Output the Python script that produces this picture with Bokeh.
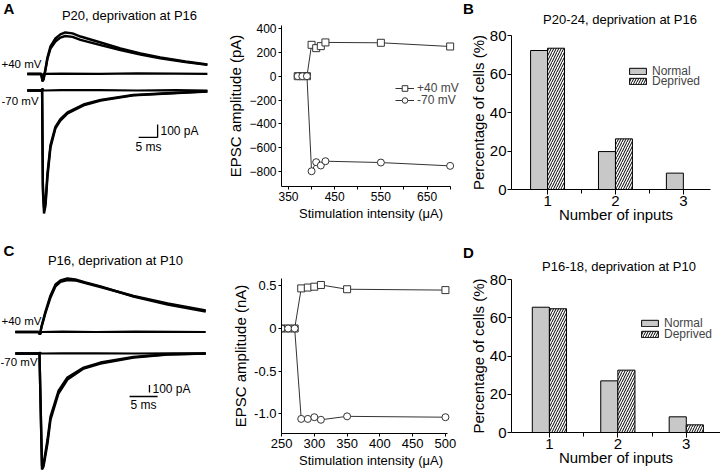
from bokeh.plotting import figure
from bokeh.models import Range1d, FixedTicker, Label, Legend, LegendItem, ColumnDataSource, PrintfTickFormatter, Div
from bokeh.layouts import row, column
from bokeh.transform import dodge
from bokeh.embed import file_html
from bokeh.resources import INLINE

FONT = "Liberation Sans"

# ---------------- DATA ----------------
# Panel A example traces (time after stimulus in ms, current in pA)
A_T_RESP40 = [-4.0, -0.3, 0.0, 0.3, 0.8, 1.3, 2.1, 3.4, 4.7, 6.0, 7.9, 10.0, 15.3, 20.5, 25.8, 31.0, 37.6, 43.4]
A_I_RESP40_1 = [0, 0, -58, -42, 42, 127, 212, 273, 304, 319, 312, 288, 242, 196, 158, 127, 96, 73]
A_I_RESP40_2 = [0, 0, -50, -35, 35, 115, 195, 250, 280, 292, 285, 262, 222, 183, 150, 121, 92, 70]
A_T_RESP70 = [-4.0, -0.1, 0.1, 0.4, 0.8, 1.3, 2.1, 3.4, 4.7, 6.6, 10.8, 15.3, 23.9, 32.9, 43.4]
A_I_RESP70_1 = [0, 0, -769, -946, -885, -669, -438, -292, -231, -177, -115, -77, -38, -23, -8]
A_I_RESP70_2 = [0, 0, -720, -900, -860, -640, -420, -280, -220, -168, -108, -72, -35, -21, -7]
A_T_FAIL = [-4.0, -0.3, 0.0, 0.3, 5.0, 15.0, 25.0, 35.0, 43.4]
A_I_FAIL40 = [0, 0, -50, 0, 3, 0, 4, 2, 0]
A_I_FAIL70 = [0, 0, 15, 0, 2, 3, 0, 2, 0]

# Panel C example traces
C_T_RESP40 = [-4.4, -0.27, 0.0, 0.27, 0.98, 1.88, 2.77, 3.66, 4.9, 6.3, 8.1, 10.8, 16.7, 22.8, 29.6]
C_I_RESP40_1 = [0, 0, -33, 73, 273, 487, 633, 687, 713, 700, 660, 607, 473, 367, 273]
C_I_RESP40_2 = [0, 0, -30, 65, 255, 460, 610, 667, 693, 687, 653, 600, 480, 380, 287]
C_T_RESP70 = [-4.4, -0.09, 0.36, 0.63, 1.34, 1.88, 3.3, 4.9, 7.8, 10.8, 16.7, 22.8, 29.6]
C_I_RESP70_1 = [0, 0, -1547, -1507, -1200, -880, -533, -347, -200, -133, -53, -13, 0]
C_I_RESP70_2 = [0, 0, -1500, -1480, -1150, -840, -500, -320, -187, -120, -47, -10, 0]
C_T_FAIL = [-4.4, -0.27, 0.0, 0.27, 4.0, 10.0, 17.0, 24.0, 29.6]
C_I_FAIL40 = [0, 0, -30, 0, 4, 0, 5, 2, 0]
C_I_FAIL70 = [0, 0, 10, 0, 3, 2, 0, 3, 0]

SCALE_MS = 5
SCALE_PA = 100

# Stimulation intensity vs EPSC amplitude
A_STIM = [370, 380, 390, 400, 410, 420, 430, 550, 700]
A_EPSC40 = [0, 0, 0, 263, 235, 252, 283, 280, 249]      # pA
A_EPSC70 = [0, 0, 0, -797, -721, -749, -713, -724, -752]
C_STIM = [250, 260, 270, 280, 290, 300, 310, 350, 500]
C_EPSC40 = [0, 0, 0, 0.47, 0.48, 0.49, 0.51, 0.46, 0.45]  # nA
C_EPSC70 = [0, 0, 0, -1.06, -1.06, -1.04, -1.07, -1.03, -1.04]

# Number of inputs distributions (% of cells)
INPUTS = [1, 2, 3]
B_NORMAL = [72.2, 19.7, 8.5]
B_DEPRIVED = [73.4, 26.3, 0.0]
D_NORMAL = [65.5, 27.0, 8.2]
D_DEPRIVED = [64.7, 32.6, 4.0]

# ---------------- LAYOUT HELPERS ----------------
COLS = [0, 224, 462, 720]


def make_fig(ci, rows, xr, yr, frame=None):
    cx0, cx1 = COLS[ci], COLS[ci + 1]
    cy0, cy1 = rows
    if frame is None:
        fl, fr, ft, fb = cx0, cx1, cy0, cy1
    else:
        fl, fr, ft, fb = frame
    kw = dict(width=cx1 - cx0, height=cy1 - cy0,
              min_border_left=fl - cx0, min_border_right=cx1 - fr,
              min_border_top=ft - cy0, min_border_bottom=cy1 - fb,
              output_backend="svg", toolbar_location=None,
              x_range=Range1d(*xr), y_range=Range1d(*yr),
              outline_line_color=None, background_fill_color="white",
              border_fill_color="white")
    if frame is None:
        kw.update(x_axis_location=None, y_axis_location=None)
    p = figure(**kw)
    p.grid.visible = False
    return p, (fl, fb)


def add_text(p, org, rx, ry, text, size, align="left", bold=False):
    fx, fb = org
    p.add_layout(Label(x=rx - fx, y=fb - ry, x_units="screen", y_units="screen",
                       text=text, text_font=FONT, text_font_size=size, text_align=align,
                       text_baseline="middle", text_color="black",
                       text_font_style="bold" if bold else "normal"))


def style_axes(p, tick_size, xlabel_size, ylabel_size, tick_out=4, standoff=2):
    for ax in p.axis:
        ax.axis_line_color = "black"
        ax.major_tick_line_color = "black"
        ax.minor_tick_line_color = "black"
        ax.major_tick_in = 0
        ax.major_tick_out = tick_out
        ax.minor_tick_in = 0
        ax.minor_tick_out = tick_out - 1
        ax.major_label_text_font = FONT
        ax.major_label_text_font_size = tick_size
        ax.major_label_text_color = "black"
        ax.major_label_standoff = standoff
        ax.axis_label_text_font = FONT
        ax.axis_label_text_font_style = "normal"
        ax.axis_label_text_color = "black"
        ax.axis_label_standoff = 2
    p.xaxis.axis_label_text_font_size = xlabel_size
    p.yaxis.axis_label_text_font_size = ylabel_size


# ---------------- TRACE PANELS ----------------
def trace_panel(rows, xr, yr, off70, t40, r40s, t70, r70s, tf, f40, f70, bar, letter, title, labels):
    p, org = make_fig(0, rows, xr, yr)
    p.line(tf, f40, line_color="black", line_width=2.2)
    p.line(tf, [v + off70 for v in f70], line_color="black", line_width=2.2)
    for r in r40s:
        p.line(t40, r, line_color="black", line_width=2.4)
    for r in r70s:
        p.line(t70, [v + off70 for v in r], line_color="black", line_width=2.4)
    t0, i0, tv, gap = bar
    p.line([t0, t0 + SCALE_MS], [i0, i0], line_color="black", line_width=1.3)
    p.line([tv, tv], [i0 + gap, i0 + gap + SCALE_PA], line_color="black", line_width=1.3)
    add_text(p, org, letter[0], letter[1], letter[2], "15px", bold=True)
    add_text(p, org, title[0], title[1], title[2], "13px", align="center")
    for (x, y, txt, al, sz) in labels:
        add_text(p, org, x, y, txt, sz, align=al)
    return p


tA = trace_panel((0, 236), (-11.05, 47.9), (-1250, 565), -127,
                 A_T_RESP40, [A_I_RESP40_1, A_I_RESP40_2],
                 A_T_RESP70, [A_I_RESP70_1, A_I_RESP70_2],
                 A_T_FAIL, A_I_FAIL40, A_I_FAIL70,
                 (25.3, -488, 30.3, 0),
                 (3, 8, "A"), (129, 15, "P20, deprivation at P16"),
                 [(1, 63, "+40 mV", "left", "11.5px"), (1, 100, "-70 mV", "left", "11.5px"),
                  (160, 130, "100 pA", "left", "12px"), (148, 146, "5 ms", "center", "12px")])

tC = trace_panel((236, 472), (-7.05, 32.95), (-1873, 1273), -287,
                 C_T_RESP40, [C_I_RESP40_1, C_I_RESP40_2],
                 C_T_RESP70, [C_I_RESP70_1, C_I_RESP70_2],
                 C_T_FAIL, C_I_FAIL40, C_I_FAIL70,
                 (16.0, -860, 19.55, 53),
                 (3, 250, "C"), (115, 260, "P16, deprivation at P10"),
                 [(1, 320, "+40 mV", "left", "11.5px"), (0, 361, "-70 mV", "left", "11.5px"),
                  (152, 388, "100 pA", "left", "12px"), (143, 404, "5 ms", "center", "12px")])


# ---------------- STIMULUS-RESPONSE PANELS ----------------
# both panels of this column share left/right frame borders (Bokeh aligns them)
def stim_panel(rows, frame, xr, yr, xbounds, xs, y40, y70, xticks, xover, yticks, yover,
               ylabel, tick_size, legend_pos):
    p, org = make_fig(1, rows, xr, yr, frame)
    col = "#333333"
    l1 = p.line(xs, y40, line_color=col, line_width=1)
    l2 = p.line(xs, y70, line_color=col, line_width=1)
    m1 = p.scatter(xs, y40, marker="square", size=7, fill_color="white", line_color=col, line_width=1)
    m2 = p.scatter(xs, y70, marker="circle", size=7, fill_color="white", line_color=col, line_width=1)
    p.xaxis.ticker = FixedTicker(ticks=xticks, minor_ticks=[])
    p.yaxis.ticker = FixedTicker(ticks=yticks, minor_ticks=[])
    p.xaxis.major_label_overrides = xover
    p.yaxis.major_label_overrides = yover
    p.xaxis.bounds = xbounds
    p.xaxis.axis_label = "Stimulation intensity (μA)"
    p.yaxis.axis_label = ylabel
    style_axes(p, tick_size, "13px", "15px", tick_out=3, standoff=2)
    if legend_pos:
        fx, fb = org
        for (rx, ry, lab, rends) in [(legend_pos[0], legend_pos[1], "+40 mV", [l1, m1]),
                                     (legend_pos[0], legend_pos[2], "-70 mV", [l2, m2])]:
            leg = Legend(items=[LegendItem(label=lab, renderers=rends)],
                         location=(rx - fx, fb - (ry + 7.5)),
                         border_line_color=None, background_fill_alpha=0, padding=0, margin=0,
                         spacing=0, glyph_width=19, glyph_height=14, label_height=14, label_standoff=3,
                         label_width=50,
                         label_text_font=FONT, label_text_font_size="12px")
            p.add_layout(leg)
    return p


sA = stim_panel((0, 236), (270, 460, 25, 186), (334.9, 722.4), (-925, 425), (334.9, 700),
                A_STIM, A_EPSC40, A_EPSC70,
                [350, 400, 450, 500, 550, 600, 650, 700], {400: "", 500: "", 600: "", 700: ""},
                [-800, -600, -400, -200, 0, 200, 400], {},
                "EPSC amplitude (pA)", "12px", (384, 87, 99))

sC = stim_panel((236, 472), (270, 460, 278, 433), (249.9, 523.0), (-1.231, 0.586), (249.9, 502.9),
                C_STIM, C_EPSC40, C_EPSC70,
                [250, 300, 350, 400, 450, 500], {},
                [-1.0, -0.5, 0, 0.5], {-1: "-1.0", 0: "0"},
                "EPSC amplitude (nA)", "13px", None)
sC.yaxis.formatter = PrintfTickFormatter(format="%.1f")


# ---------------- BAR PANELS ----------------
def header(height, letter, ly, title, tx, ty):
    html = ('<div style="position:relative;width:258px;height:%dpx;font-family:\'Liberation Sans\';color:black;">'
            '<span style="position:absolute;left:1px;top:%dpx;font-size:15px;font-weight:bold;line-height:1;'
            'transform:translateY(-50%%);">%s</span>'
            '<span style="position:absolute;left:%dpx;top:%dpx;font-size:13px;line-height:1;white-space:nowrap;'
            'transform:translate(-50%%,-50%%);">%s</span></div>') % (height, ly, letter, tx, ty, title)
    return Div(text=html, width=258, height=height, margin=(0, 0, 0, 0))


def bar_panel(rows, frame, xr, xbounds, normal, deprived, legend_pos):
    p, org = make_fig(2, rows, xr, (0, 80), frame)
    p.border_fill_color = None
    src = ColumnDataSource(dict(x=INPUTS, normal=normal, deprived=deprived))
    r1 = p.vbar(x=dodge("x", -0.125, range=p.x_range), top="normal", width=0.25, source=src,
                fill_color="#c8c8c8", line_color="black", line_width=1)
    r2 = p.vbar(x=dodge("x", 0.125, range=p.x_range), top="deprived", width=0.25, source=src,
                fill_color="white", line_color="black", line_width=1,
                hatch_pattern="/", hatch_color="black", hatch_scale=5, hatch_weight=1)
    p.xaxis.ticker = FixedTicker(ticks=[1, 2, 3], minor_ticks=[1.5, 2.5])
    p.yaxis.ticker = FixedTicker(ticks=[0, 20, 40, 60, 80], minor_ticks=[])
    p.xaxis.bounds = xbounds
    p.xaxis.axis_label = "Number of inputs"
    p.yaxis.axis_label = "Percentage of cells (%)"
    style_axes(p, "15px", "15px", "15px", tick_out=5, standoff=1)
    p.yaxis.major_tick_out = 4
    p.xaxis.axis_label_standoff = -3
    p.yaxis.axis_label_standoff = 0
    fx, fb = org
    for (ry, lab, rends) in [(legend_pos[1], "Normal", [r1]), (legend_pos[2], "Deprived", [r2])]:
        leg = Legend(items=[LegendItem(label=lab, renderers=rends)],
                     location=(legend_pos[0] - fx, fb - (ry + 7)),
                     border_line_color=None, background_fill_alpha=0, padding=0, margin=0,
                     spacing=0, glyph_width=21, glyph_height=8, label_height=8, label_standoff=4,
                     label_text_font=FONT, label_text_font_size="12px")
        p.add_layout(leg)
    return p


hB = header(27, "B", 8, "P20-24, deprivation at P16", 158, 19)
bB = bar_panel((27, 236), (511, 720, 35, 189), (0.469, 3.547), (0.469, 3.40),
               B_NORMAL, B_DEPRIVED, (627, 70.5, 80.5))
hD = header(36, "D", 16, "P16-18, deprivation at P10", 157, 30)
bD = bar_panel((272, 472), (511, 720, 279, 432), (0.446, 3.50), (0.446, 3.50),
               D_NORMAL, D_DEPRIVED, (639, 323, 333.5))

layout = row(column(tA, tC), column(sA, sC), column(hB, bB, hD, bD))
open("out.html", "w").write(file_html(layout, INLINE))
